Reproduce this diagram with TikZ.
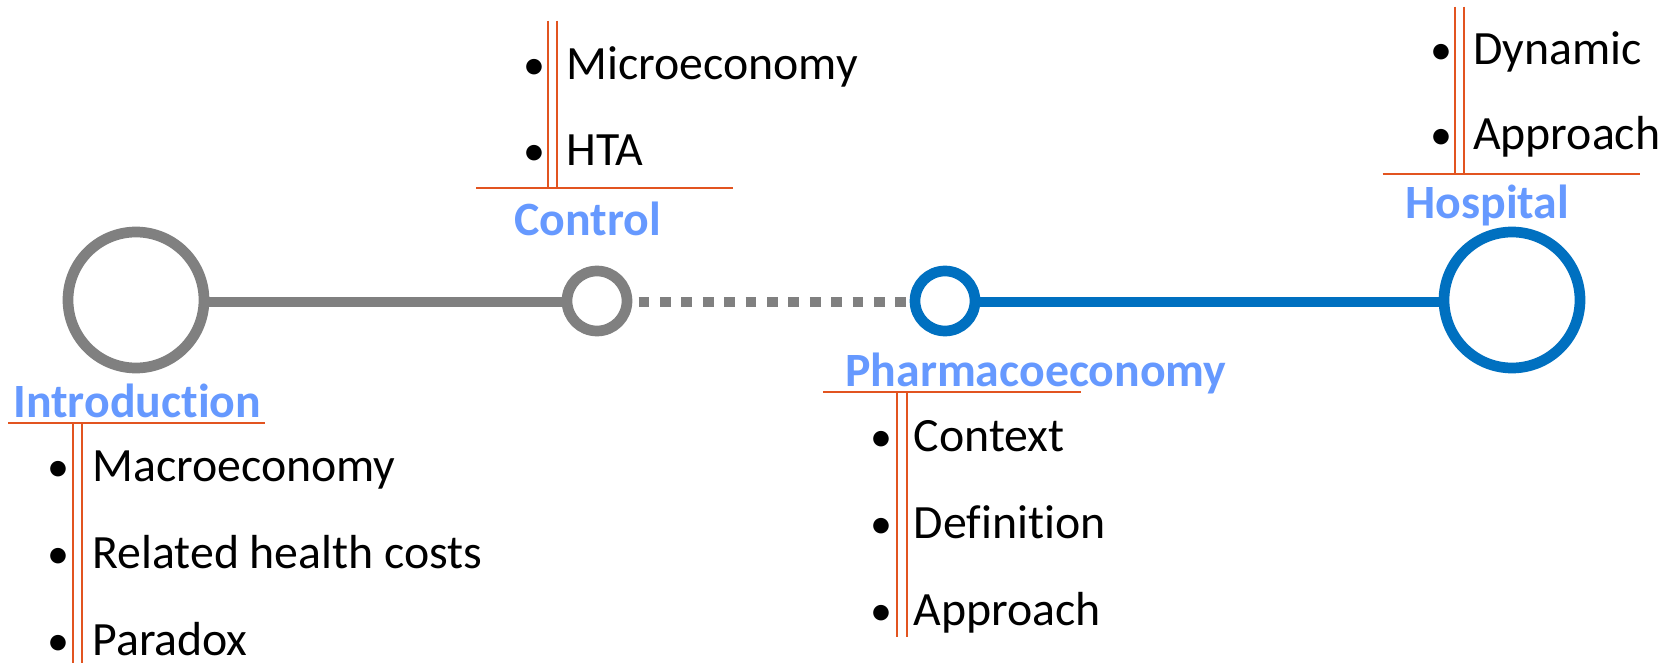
\documentclass[tikz,border=0pt]{standalone}
\usepackage{fontspec}
\setmainfont{Carlito}[Ligatures=NoCommon]
\definecolor{trackgray}{RGB}{128,128,128}
\definecolor{trackblue}{RGB}{0,112,192}
\definecolor{headblue}{RGB}{102,153,255}
\definecolor{rule}{RGB}{226,84,32}
\begin{document}
\begin{tikzpicture}[x=0.5pt,y=-0.5pt,
  bigstop/.style={circle,draw,line width=5.35pt,minimum size=68pt,inner sep=0pt,fill=white},
  smallstop/.style={circle,draw,line width=5.35pt,minimum size=30pt,inner sep=0pt,fill=white},
  track/.style={line width=5pt},
  dotted track/.style={line width=5pt,dash pattern=on 5.35pt off 5.35pt,line cap=butt},
  heading/.style={anchor=base west,inner sep=0pt,text=headblue,font=\fontsize{23.9pt}{28pt}\selectfont\bfseries},
  item/.style={anchor=base west,inner sep=0pt,font=\fontsize{23.9pt}{28pt}\selectfont},
  bullet/.style={anchor=base,inner sep=0pt,font=\fontsize{22pt}{28pt}\selectfont},
  rulerline/.style={draw=rule,line width=1pt}]
\useasboundingbox (0,0) rectangle (1675,663);

% stops on the timeline
\node[bigstop,draw=trackgray]   (intro)  at (136,300) {};
\node[smallstop,draw=trackgray] (ctrl)   at (597,301) {};
\node[smallstop,draw=trackblue] (pharm)  at (945,301) {};
\node[bigstop,draw=trackblue]   (hosp)   at (1512,300) {};

% track segments
\draw[track,trackgray] (intro.east |- 0,301.5) -- (ctrl.west |- 0,301.5);
\draw[dotted track,trackgray] ([xshift=3.15pt]ctrl.east |- 0,301.5) -- (pharm.west |- 0,301.5);
\draw[track,trackblue] (pharm.east |- 0,301.5) -- (hosp.west |- 0,301.5);

% Introduction
\node[heading] (hIntro) at (13,417) {Introduction};
\draw[rulerline] (8,422.5) -- (265,422.5);
\draw[rulerline] (72.7,422.5) -- (72.7,663);
\draw[rulerline] (82.3,422.5) -- (82.3,663);
\node[bullet] (bi1) at (58.5,481.7) {•};
\node[item] (i1) at (92,481.7) {Macroeconomy};
\node[bullet] (bi2) at (58.5,568.3) {•};
\node[item] (i2) at (92,568.3) {Related health costs};
\node[bullet] (bi3) at (58.5,655) {•};
\node[item] (i3) at (92,655) {Paradox};

% Control
\node[heading] (hCtrl) at (514,235) {Control};
\draw[rulerline] (476,188.3) -- (733,188.3);
\draw[rulerline] (547.7,20.7) -- (547.7,188.3);
\draw[rulerline] (557.3,20.7) -- (557.3,188.3);
\node[bullet] (bc1) at (534,80) {•};
\node[item] (c1) at (566,80) {Microeconomy};
\node[bullet] (bc2) at (534,165.7) {•};
\node[item] (c2) at (566,165.7) {HTA};

% Pharmacoeconomy
\node[heading] (hPharm) at (845,386.7) {Pharmacoeconomy};
\draw[rulerline] (823.3,392.3) -- (1081,392.3);
\draw[rulerline] (897.3,392.3) -- (897.3,636.7);
\draw[rulerline] (906.7,392.3) -- (906.7,636.7);
\node[bullet] (bp1) at (881.7,451.7) {•};
\node[item] (p1) at (913.3,451.7) {Context};
\node[bullet] (bp2) at (881.7,538.3) {•};
\node[item] (p2) at (913.3,538.3) {Definition};
\node[bullet] (bp3) at (881.7,625) {•};
\node[item] (p3) at (913.3,625) {Approach};

% Hospital
\node[heading] (hHosp) at (1405,218.3) {Hospital};
\draw[rulerline] (1382.7,174) -- (1640,174);
\draw[rulerline] (1454.7,6.7) -- (1454.7,174);
\draw[rulerline] (1464.3,6.7) -- (1464.3,174);
\node[bullet] (bh1) at (1441.7,64.3) {•};
\node[item] (h1) at (1472.7,64.3) {Dynamic};
\node[bullet] (bh2) at (1441.7,150) {•};
\node[item] (h2) at (1472.7,150) {Approach};
\end{tikzpicture}
\end{document}
